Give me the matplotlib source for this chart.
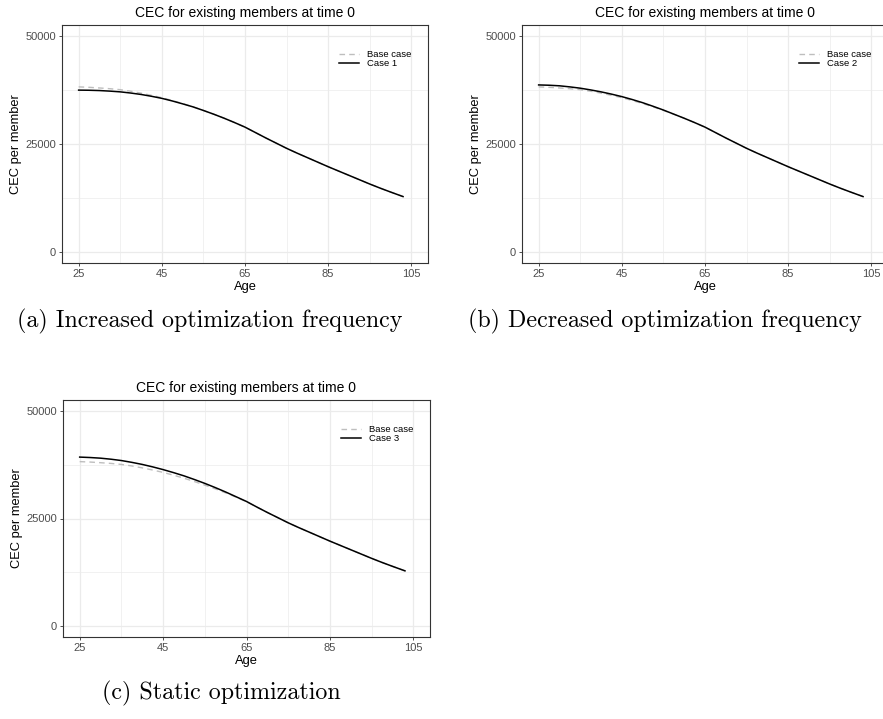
import matplotlib.pyplot as plt
from matplotlib.ticker import MultipleLocator

ages = [25, 27.5, 30, 32.5, 35, 37.5, 40, 42.5, 45, 47.5, 50, 52.5, 55, 57.5,
        60, 62.5, 65, 67.5, 70, 72.5, 75, 77.5, 80, 82.5, 85, 87.5, 90, 92.5,
        95, 97.5, 100, 103]
base_case = [38200, 38100, 37950, 37780, 37550, 37200, 36750, 36250, 35700,
             35050, 34350, 33580, 32750, 31880, 30950, 29950, 28900, 27650,
             26400, 25200, 24000, 22900, 21850, 20800, 19750, 18750, 17750,
             16750, 15750, 14800, 13900, 12850]
case_1 = [37450, 37420, 37350, 37220, 37050, 36780, 36450, 36030, 35550,
          34950, 34280, 33580, 32750, 31880, 30950, 29950, 28900, 27650,
          26400, 25200, 24000, 22900, 21850, 20800, 19750, 18750, 17750,
          16750, 15750, 14800, 13900, 12850]
case_2 = [38650, 38580, 38450, 38200, 37900, 37500, 37050, 36530, 35950,
          35280, 34550, 33720, 32850, 31900, 30950, 29950, 28900, 27650,
          26400, 25200, 24000, 22900, 21850, 20800, 19750, 18750, 17750,
          16750, 15750, 14800, 13900, 12850]
case_3 = [39250, 39150, 39000, 38760, 38450, 38030, 37550, 36980, 36350,
          35650, 34900, 34050, 33150, 32180, 31150, 30050, 28950, 27650,
          26400, 25200, 24000, 22900, 21850, 20800, 19750, 18750, 17750,
          16750, 15750, 14800, 13900, 12850]

case_names = ['Case 1', 'Case 2', 'Case 3']
captions = ['(a) Increased optimization frequency',
            '(b) Decreased optimization frequency',
            '(c) Static optimization']
x_ticks = [25, 45, 65, 85, 105]
y_ticks = [0, 25000, 50000]

plt.rcParams['font.family'] = ['Liberation Sans', 'DejaVu Sans']

W, H = 883, 719
fig = plt.figure(figsize=(W / 100, H / 100), dpi=100)


def px_axes(left, top, right, bottom):
    return fig.add_axes([left / W, 1 - bottom / H, (right - left) / W, (bottom - top) / H])


def cec_panel(ax, case_values, case_name):
    ax.set_facecolor('white')
    ax.plot(ages, base_case, color='#BEBEBE', lw=1.0, ls=(0, (4, 3)), label='Base case')
    ax.plot(ages, case_values, color='black', lw=1.1, label=case_name)
    ax.set_xlim(21, 109)
    ax.set_ylim(-2500, 52500)
    ax.set_xticks(x_ticks)
    ax.set_yticks(y_ticks)
    ax.xaxis.set_minor_locator(MultipleLocator(10, offset=5))
    ax.yaxis.set_minor_locator(MultipleLocator(25000, offset=12500))
    ax.grid(which='major', color='#EBEBEB', lw=0.9)
    ax.grid(which='minor', color='#EBEBEB', lw=0.5)
    ax.set_axisbelow(True)
    ax.tick_params(which='major', length=2.5, width=0.6, color='#333333',
                   labelsize=8, labelcolor='#4D4D4D', pad=2)
    ax.tick_params(which='minor', length=0)
    for s in ax.spines.values():
        s.set_color('#333333')
        s.set_linewidth(0.8)
    ax.set_title('CEC for existing members at time 0', fontsize=10, pad=6)
    ax.set_xlabel('Age', fontsize=9.3, labelpad=1)
    ax.set_ylabel('CEC per member', fontsize=9.3, labelpad=2)
    ax.legend(loc='upper right', bbox_to_anchor=(0.965, 0.91), frameon=False,
              fontsize=6.8, handlelength=2.2, labelspacing=0.0,
              handletextpad=0.8, borderaxespad=0)


panels = [(62, 25, 428, 263), (522, 25, 888, 263), (63, 400, 430, 637)]
case_values = [case_1, case_2, case_3]
caption_pos = [(210, 321), (665, 321), (221, 693)]

for rect, values, name, cap, (cx, cy) in zip(panels, case_values, case_names,
                                               captions, caption_pos):
    ax = px_axes(*rect)
    cec_panel(ax, values, name)
    fig.text(cx / W, 1 - cy / H, cap, family='cmr10', fontsize=17.3,
             ha='center', va='center')

fig.savefig('out.png', dpi=100, facecolor='white')
